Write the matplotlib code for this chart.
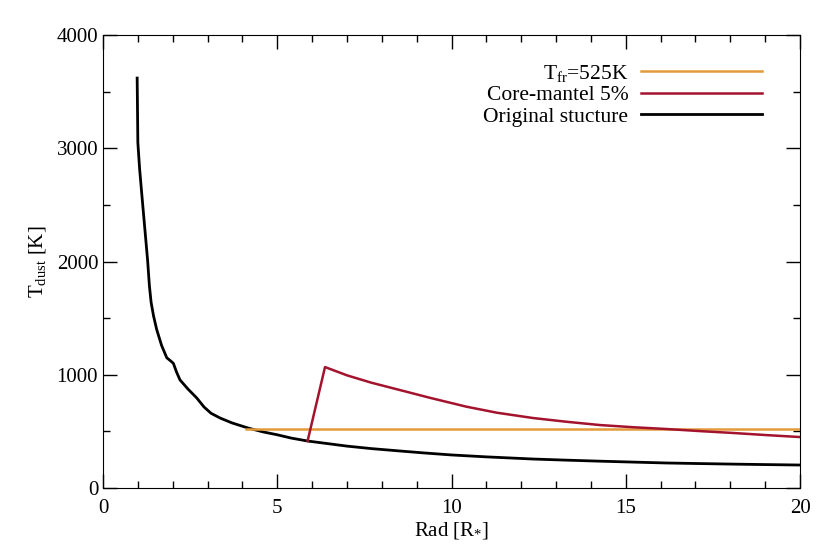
import matplotlib
matplotlib.use("Agg")
import matplotlib.pyplot as plt
from matplotlib.ticker import MultipleLocator

# curva original
rad_orig = [0.98, 1.0, 1.05, 1.11, 1.2, 1.28, 1.33, 1.38, 1.45, 1.54, 1.68, 1.83,
            1.95, 2.02, 2.11, 2.21, 2.45, 2.69, 2.9, 3.1, 3.36, 3.7, 4.16, 4.6,
            5.0, 5.4, 5.87, 6.5, 7.0, 7.7, 8.52, 9.2, 10.0, 11.0, 12.34, 13.3,
            14.26, 15.2, 16.17, 17.1, 18.08, 19.0, 20.0]
t_orig = [3620, 3050, 2820, 2605, 2290, 2010, 1790, 1640, 1520, 1400, 1260, 1150,
          1120, 1100, 1024, 954, 870, 795, 715, 660, 618, 575, 530, 495,
          470, 441, 415, 390, 370, 348, 327, 310, 292, 275, 256, 246,
          237, 229, 221, 216, 211, 207, 203]

# core-mantel 5%
rad_core = [5.87, 6.37, 7.0, 7.7, 8.52, 9.4, 10.43, 11.3, 12.34, 13.3, 14.26,
            15.2, 16.17, 17.1, 18.08, 19.0, 20.0]
t_core = [415, 1068, 995, 930, 865, 795, 718, 665, 618, 585, 556,
          537, 521, 503, 486, 468, 450]

# temperatura de congelamiento
rad_fr = [4.1, 20.0]
t_fr = [525, 525]

plt.rcParams['font.family'] = ['Liberation Serif', 'DejaVu Serif']
plt.rcParams['mathtext.fontset'] = 'custom'
plt.rcParams['mathtext.rm'] = 'Liberation Serif'
plt.rcParams['mathtext.it'] = 'Liberation Serif:italic'

fig = plt.figure(figsize=(8.3, 5.54), dpi=100)
ax = fig.add_axes([0.1241, 0.1191, 0.8398, 0.8177])

l_orig, = ax.plot(rad_orig, t_orig, color='black', lw=2.0)
l_fr, = ax.plot(rad_fr, t_fr, color='#E39A3B', lw=1.8)
l_core, = ax.plot(rad_core, t_core, color='#A3132E', lw=1.8)

ax.set_xlim(0, 20)
ax.set_ylim(0, 4000)
ax.xaxis.set_major_locator(MultipleLocator(5))
ax.xaxis.set_minor_locator(MultipleLocator(1))
ax.yaxis.set_major_locator(MultipleLocator(1000))
ax.yaxis.set_minor_locator(MultipleLocator(500))
ax.tick_params(which='both', direction='in', top=True, right=True, labelsize=15)
ax.tick_params(which='major', length=10, width=1)
ax.tick_params(which='minor', length=5, width=1)
ax.tick_params(axis='x', pad=8)

ax.set_xlabel(r"Rad [R$_{*}$]", fontsize=15, labelpad=1)
ax.set_ylabel(r"T$_{\rm dust}$ [K]", fontsize=15, labelpad=6)

ax.legend([l_fr, l_core, l_orig],
          [r"T$_{\rm fr}$=525K", "Core-mantel 5%", "Original stucture"],
          loc='upper right', frameon=False, markerfirst=False, fontsize=15.5,
          handlelength=5.6, handletextpad=0.6, labelspacing=0.07,
          bbox_to_anchor=(0.973, 0.982))

fig.savefig("out.png", dpi=100)
